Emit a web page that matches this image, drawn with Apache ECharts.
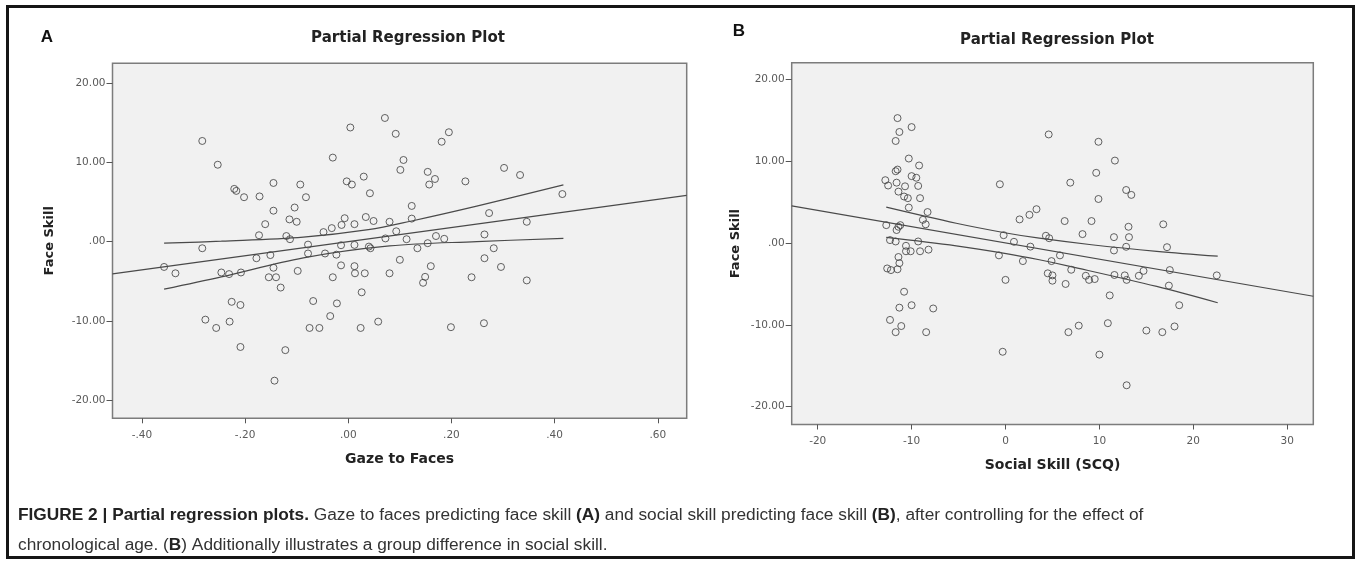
<!DOCTYPE html>
<html>
<head>
<meta charset="utf-8">
<script src="https://cdn.jsdelivr.net/npm/echarts@6/dist/echarts.min.js"></script>
<style>
html,body{margin:0;padding:0;background:#fff;}
#chart{width:1357px;height:566px;}
</style>
</head>
<body>
<div id="chart"></div>
<script>
// ---------- DATA ----------
const titleText = 'Partial Regression Plot';
const xNameA = 'Gaze to Faces';
const xNameB = 'Social Skill (SCQ)';
const yName = 'Face Skill';

const ticksAX = [-0.4, -0.2, 0, 0.2, 0.4, 0.6];
const ticksBX = [-20, -10, 0, 10, 20, 30];
const ticksY = [-20, -10, 0, 10, 20];

const rangeAX = [-0.457, 0.656];
const rangeAY = [-22.3, 22.5];
const rangeBX = [-22.77, 32.78];
const rangeBY = [-22.2, 22.08];

// Panel A: Gaze to Faces (x) vs Face Skill (y)
const pointsA = [
  [-0.283,12.7],[0.004,14.4],[0.092,13.6],[0.195,13.8],[0.181,12.6],[0.071,15.6],
  [-0.253,9.7],[-0.030,10.6],[0.107,10.3],[0.101,9.05],[0.154,8.8],[0.302,9.3],
  [0.333,8.4],[0.030,8.2],[-0.003,7.6],[0.007,7.2],[0.168,7.9],[0.157,7.2],
  [0.227,7.6],[-0.145,7.4],[-0.093,7.2],[-0.221,6.65],[-0.217,6.4],[-0.202,5.6],
  [-0.172,5.7],[-0.082,5.6],[0.042,6.1],[0.415,6.0],[-0.145,3.9],[-0.104,4.3],
  [0.123,4.5],[0.273,3.6],[-0.161,2.2],[-0.114,2.8],[-0.100,2.5],[-0.007,2.95],
  [-0.032,1.7],[-0.013,2.1],[0.012,2.2],[0.034,3.1],[0.049,2.6],[0.080,2.5],
  [0.123,2.9],[0.346,2.5],[-0.048,1.2],[-0.173,0.8],[-0.120,0.7],[-0.113,0.3],
  [0.072,0.4],[0.093,1.3],[0.113,0.3],[0.170,0.7],[0.186,0.35],[0.264,0.9],
  [-0.283,-0.84],[-0.078,-0.38],[-0.014,-0.46],[0.012,-0.42],[0.040,-0.63],[0.043,-0.84],
  [0.134,-0.84],[0.154,-0.2],[0.282,-0.84],[-0.178,-2.1],[-0.151,-1.7],[-0.078,-1.5],
  [-0.045,-1.5],[-0.023,-1.65],[0.100,-2.3],[0.264,-2.1],[-0.357,-3.2],[-0.335,-4.0],
  [-0.246,-3.9],[-0.231,-4.1],[-0.208,-3.9],[-0.145,-3.3],[-0.154,-4.5],[-0.140,-4.5],
  [-0.098,-3.7],[-0.030,-4.5],[-0.014,-3.0],[0.012,-3.1],[0.013,-4.0],[0.032,-4.0],
  [0.080,-4.0],[0.149,-4.45],[0.160,-3.1],[0.145,-5.2],[0.239,-4.5],[0.296,-3.2],
  [0.346,-4.9],[-0.131,-5.8],[0.026,-6.4],[-0.226,-7.6],[-0.209,-8.0],[-0.068,-7.5],
  [-0.022,-7.8],[-0.035,-9.4],[-0.277,-9.85],[-0.256,-10.9],[-0.230,-10.1],[-0.075,-10.9],
  [-0.056,-10.9],[0.024,-10.9],[0.058,-10.1],[0.199,-10.8],[0.263,-10.3],[-0.209,-13.3],
  [-0.122,-13.7],[-0.143,-17.55]
];
const fitA = [[-0.457,-4.07],[0.656,5.84]];
const upperA = [[-0.357,-0.2],[-0.246,0.05],[-0.087,0.56],[0.039,1.5],[0.123,2.6],[0.249,4.47],[0.417,7.15]];
const lowerA = [[-0.357,-6.0],[-0.246,-4.45],[-0.087,-2.05],[0.08,-0.55],[0.249,0.0],[0.417,0.4]];

// Panel B: Social Skill (SCQ) (x) vs Face Skill (y)
const pointsB = [
  [-11.5,15.3],[-10.0,14.2],[-11.3,13.6],[-11.7,12.5],[-10.3,10.35],[-9.2,9.5],
  [-11.7,8.8],[-11.5,9.0],[-12.8,7.7],[-12.5,7.05],[-11.6,7.4],[-10.0,8.2],
  [-9.5,8.0],[-10.7,6.95],[-9.3,7.0],[-11.4,6.3],[-10.8,5.7],[-10.4,5.5],
  [-9.1,5.5],[-10.3,4.35],[-8.3,3.8],[-8.8,2.85],[-8.5,2.3],[-12.7,2.2],
  [-11.2,2.2],[-11.4,2.0],[-11.6,1.6],[-12.3,0.37],[-11.7,0.2],[-9.3,0.2],
  [-10.6,-0.33],[-10.6,-1.0],[-10.1,-1.0],[-9.1,-1.0],[-8.2,-0.8],[-11.4,-1.7],
  [-11.3,-2.45],[-12.6,-3.1],[-12.2,-3.3],[-11.5,-3.2],[-10.8,-5.95],[-11.3,-7.9],
  [-10.0,-7.6],[-7.7,-8.0],[-12.3,-9.4],[-11.1,-10.15],[-11.7,-10.9],[-8.45,-10.9],
  [4.6,13.3],[9.9,12.4],[11.65,10.1],[9.66,8.6],[6.9,7.4],[-0.6,7.2],
  [12.85,6.5],[13.4,5.9],[9.9,5.4],[3.3,4.15],[2.55,3.46],[1.5,2.9],
  [6.3,2.7],[9.16,2.7],[16.8,2.3],[13.1,2.0],[-0.2,0.97],[4.3,0.9],
  [4.65,0.6],[8.2,1.1],[11.55,0.73],[13.15,0.73],[0.9,0.16],[2.65,-0.43],
  [12.85,-0.45],[17.2,-0.5],[11.55,-0.9],[-0.7,-1.5],[5.8,-1.5],[1.85,-2.2],
  [4.9,-2.2],[7.0,-3.26],[4.5,-3.7],[5.0,-3.95],[8.55,-4.0],[9.5,-4.4],
  [8.9,-4.5],[11.6,-3.9],[12.7,-3.95],[12.9,-4.5],[14.2,-4.0],[14.7,-3.4],
  [17.5,-3.3],[22.5,-3.95],[0.0,-4.5],[5.0,-4.6],[6.4,-5.0],[17.4,-5.2],
  [11.1,-6.4],[18.5,-7.6],[-0.3,-13.3],[6.7,-10.9],[7.8,-10.1],[10.9,-9.8],
  [10.0,-13.65],[15.0,-10.7],[16.7,-10.9],[18.0,-10.2],[12.9,-17.4]
];
const fitB = [[-22.77,4.56],[32.78,-6.5]];
const upperB = [[-12.7,4.4],[-5.25,2.43],[0.07,1.24],[3.6,0.6],[9.16,-0.2],[16.1,-1.0],[22.6,-1.6]];
const lowerB = [[-12.7,0.7],[-5.25,-0.33],[0.07,-1.28],[3.6,-2.04],[6.85,-2.84],[16.1,-5.3],[22.6,-7.3]];

// ---------- CHART ----------
const chart = echarts.init(document.getElementById('chart'), null, {renderer: 'canvas'});

function fmtDec(v) {
  if (Math.abs(v) < 1e-9) return '.00';
  const s = Math.abs(v).toFixed(2).replace(/^0/, '');
  return (v < 0 ? '-' : '') + s;
}
function fmtInt(v) { return String(Math.round(v)); }

const tickFont = {fontFamily: 'DejaVu Sans', fontSize: 10.5, color: '#5a5a5a'};
const nameFont = {fontFamily: 'DejaVu Sans', fontWeight: 'bold', fontSize: 14, color: '#222'};
const yNameFont = {fontFamily: 'DejaVu Sans', fontWeight: 'bold', fontSize: 13, color: '#222'};

function xAxis(grid, range, ticks, fmt, name) {
  return {
    gridIndex: grid, type: 'value', min: range[0], max: range[1], position: 'bottom',
    axisLine: {show: false, onZero: false}, splitLine: {show: false},
    axisTick: {show: true, length: 5, customValues: ticks, lineStyle: {color: '#555', width: 1}},
    axisLabel: Object.assign({customValues: ticks, formatter: fmt, margin: 11}, tickFont),
    name: name, nameLocation: 'middle', nameGap: 34, nameTextStyle: nameFont
  };
}
function yAxis(grid, range, gap) {
  return {
    gridIndex: grid, type: 'value', min: range[0], max: range[1], position: 'left',
    axisLine: {show: false, onZero: false}, splitLine: {show: false},
    axisTick: {show: true, length: 6, customValues: ticksY, lineStyle: {color: '#555', width: 1}},
    axisLabel: Object.assign({customValues: ticksY, formatter: fmtDec, margin: 7}, tickFont),
    name: yName, nameLocation: 'middle', nameGap: gap, nameTextStyle: yNameFont
  };
}

const circleStyle = {color: 'rgba(0,0,0,0)', borderColor: '#3c3c3c', borderWidth: 1};
const lineStyle = {color: '#4a4a4a', width: 1.2};

function scatter(i, data) {
  return {type: 'scatter', xAxisIndex: i, yAxisIndex: i, data: data, symbol: 'circle',
    symbolSize: 7, itemStyle: circleStyle, silent: true, z: 2};
}
function line(i, data, smooth) {
  return {type: 'line', xAxisIndex: i, yAxisIndex: i, data: data, showSymbol: false, symbol: 'none',
    smooth: smooth ? 0.35 : false, lineStyle: lineStyle, silent: true, z: 3};
}

const captionText =
  '{b|FIGURE 2 | Partial regression plots.}{n| Gaze to faces predicting face skill }{b|(A)}{n| and social skill predicting face skill }{b|(B)}{n|, after controlling for the effect of}\n' +
  '{n|chronological age. (}{b|B}{n|) Additionally illustrates a group difference in social skill.}';

chart.setOption({
  animation: false,
  backgroundColor: '#ffffff',
  grid: [
    {left: 112.5, top: 63.3, width: 574.2, height: 355, show: true, backgroundColor: '#f1f1f1',
      borderColor: '#7c7c7c', borderWidth: 1.5, containLabel: false},
    {left: 791.7, top: 62.7, width: 521.6, height: 361.8, show: true, backgroundColor: '#f1f1f1',
      borderColor: '#7c7c7c', borderWidth: 1.5, containLabel: false}
  ],
  xAxis: [
    xAxis(0, rangeAX, ticksAX, fmtDec, xNameA),
    xAxis(1, rangeBX, ticksBX, fmtInt, xNameB)
  ],
  yAxis: [
    yAxis(0, rangeAY, 56),
    yAxis(1, rangeBY, 50)
  ],
  series: [
    scatter(0, pointsA), line(0, fitA, false), line(0, upperA, true), line(0, lowerA, true),
    scatter(1, pointsB), line(1, fitB, false), line(1, upperB, true), line(1, lowerB, true)
  ],
  graphic: [
    {type: 'rect', shape: {x: 7.5, y: 6.5, width: 1346, height: 551}, style: {fill: null, stroke: '#151515', lineWidth: 3}, silent: true},
    {type: 'text', x: 47, y: 37, style: {text: 'A', font: 'bold 17px "Liberation Sans"', fill: '#111', textAlign: 'center', textVerticalAlign: 'middle'}},
    {type: 'text', x: 739, y: 31, style: {text: 'B', font: 'bold 17px "Liberation Sans"', fill: '#111', textAlign: 'center', textVerticalAlign: 'middle'}},
    {type: 'text', x: 408, y: 38.5, style: {text: titleText, font: 'bold 15px "DejaVu Sans"', fill: '#222', textAlign: 'center', textVerticalAlign: 'middle'}},
    {type: 'text', x: 1057, y: 40.5, style: {text: titleText, font: 'bold 15px "DejaVu Sans"', fill: '#222', textAlign: 'center', textVerticalAlign: 'middle'}},
    {type: 'text', x: 18, y: 500, style: {
      text: captionText, textAlign: 'left', textVerticalAlign: 'top',
      lineHeight: 30,
      rich: {
        b: {fontFamily: '"Liberation Sans"', fontWeight: 'bold', fontSize: 17.3, fill: '#222', lineHeight: 30},
        n: {fontFamily: '"Liberation Sans"', fontSize: 17.3, fill: '#333', lineHeight: 30}
      }
    }}
  ]
});
</script>
</body>
</html>
